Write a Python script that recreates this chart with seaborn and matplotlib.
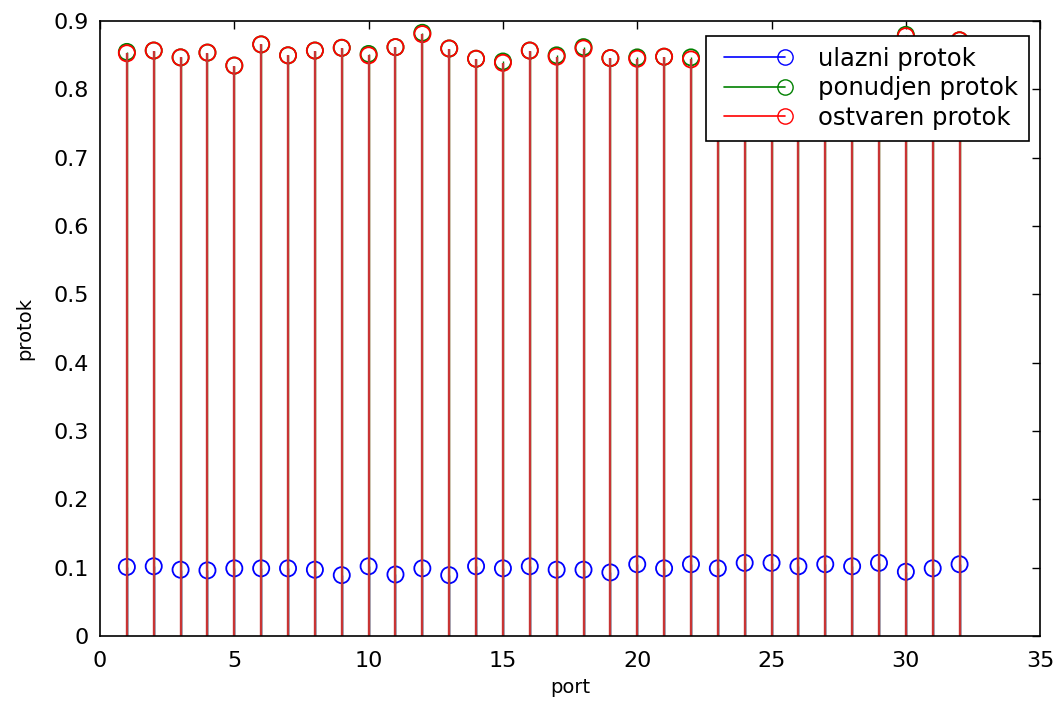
import numpy as np
import pandas as pd
import matplotlib
matplotlib.use("Agg")
import matplotlib.pyplot as plt
import seaborn as sns
from matplotlib.lines import Line2D
from matplotlib.legend_handler import HandlerLine2D

ports = list(range(1, 33))
ulazni = [0.101, 0.102, 0.097, 0.096, 0.099, 0.099, 0.099, 0.097, 0.089, 0.102,
          0.090, 0.099, 0.089, 0.102, 0.099, 0.102, 0.097, 0.097, 0.093, 0.105,
          0.099, 0.105, 0.099, 0.107, 0.107, 0.102, 0.105, 0.102, 0.107, 0.094,
          0.099, 0.105]
ostvaren = [0.853, 0.857, 0.847, 0.854, 0.835, 0.866, 0.850, 0.857, 0.861, 0.850,
            0.862, 0.881, 0.860, 0.845, 0.839, 0.857, 0.848, 0.860, 0.846, 0.845,
            0.848, 0.844, 0.848, 0.852, 0.845, 0.855, 0.850, 0.847, 0.853, 0.878,
            0.851, 0.872]
ponudjen = [0.855, 0.857, 0.847, 0.854, 0.835, 0.866, 0.850, 0.857, 0.861, 0.852,
            0.862, 0.883, 0.860, 0.845, 0.841, 0.857, 0.850, 0.862, 0.846, 0.847,
            0.848, 0.847, 0.848, 0.852, 0.845, 0.855, 0.850, 0.847, 0.853, 0.880,
            0.851, 0.872]
labels = ["ulazni protok", "ponudjen protok", "ostvaren protok"]
colors = ["#0000ff", "#008000", "#ff0000"]
stem_colors = ["#0000ff", "#008000", "#c83434"]
stem_widths = [1.0, 1.0, 1.7]

sns.set_style("white")
plt.rcParams["font.family"] = ["DejaVu Sans"]
plt.rcParams["text.color"] = "black"
plt.rcParams["axes.labelcolor"] = "black"


class EndMarkerHandler(HandlerLine2D):
    def create_artists(self, legend, orig_handle, xdescent, ydescent, width,
                       height, fontsize, trans):
        arts = super().create_artists(legend, orig_handle, xdescent, ydescent,
                                      width, height, fontsize, trans)
        for a in arts:
            if a.get_marker() not in (None, "None", "", " "):
                xd = a.get_xdata()
                if len(xd) > 1:
                    a.set_markevery([len(xd) - 1])
        return arts


fig = plt.figure(figsize=(10.56, 7.06), dpi=100)
ax = fig.add_axes([0.0947, 0.0992, 0.8903, 0.8708])

df = pd.DataFrame({"port": ports, "ulazni": ulazni, "ponudjen": ponudjen, "ostvaren": ostvaren})
handles = []
for col, lab, c, sc, sw in zip(["ulazni", "ponudjen", "ostvaren"], labels, colors,
                               stem_colors, stem_widths):
    ax.vlines(df["port"], 0, df[col], colors=sc, linewidth=sw)
    sns.scatterplot(data=df, x="port", y=col, ax=ax, marker="o", s=135,
                    facecolor="none", edgecolor=c, linewidth=1.3, legend=False)
    handles.append(Line2D([0, 1], [0, 0], color=c, lw=1.2, marker="o", ms=11,
                          mfc="none", mec=c))

ax.set_xlim(0, 35)
ax.set_ylim(0, 0.9)
ax.set_xticks(np.arange(0, 36, 5))
ax.set_yticks(np.round(np.arange(0, 0.91, 0.1), 1))
ax.set_yticklabels(["0", "0.1", "0.2", "0.3", "0.4", "0.5", "0.6", "0.7", "0.8", "0.9"])
ax.tick_params(direction="in", length=6, width=1, top=True, right=True,
               labelsize=16, colors="black")
ax.tick_params(axis="x", pad=11)
ax.tick_params(axis="y", pad=8)
for s in ax.spines.values():
    s.set_visible(True)
    s.set_color("black")
    s.set_linewidth(1.2)
ax.set_xlabel("port", fontsize=14, labelpad=5)
ax.set_ylabel("protok", fontsize=14, labelpad=14)

leg = ax.legend(handles, labels, loc="upper right", bbox_to_anchor=(0.988, 0.976),
                borderaxespad=0, fontsize=17.5, frameon=True, fancybox=False,
                handlelength=3.1, handletextpad=1.05, borderpad=0.45, labelspacing=0.22,
                handler_map={Line2D: EndMarkerHandler(numpoints=2)})
leg.get_frame().set_edgecolor("black")
leg.get_frame().set_linewidth(1.2)
leg.get_frame().set_alpha(1)

fig.savefig("out.png", dpi=100, facecolor="white")
